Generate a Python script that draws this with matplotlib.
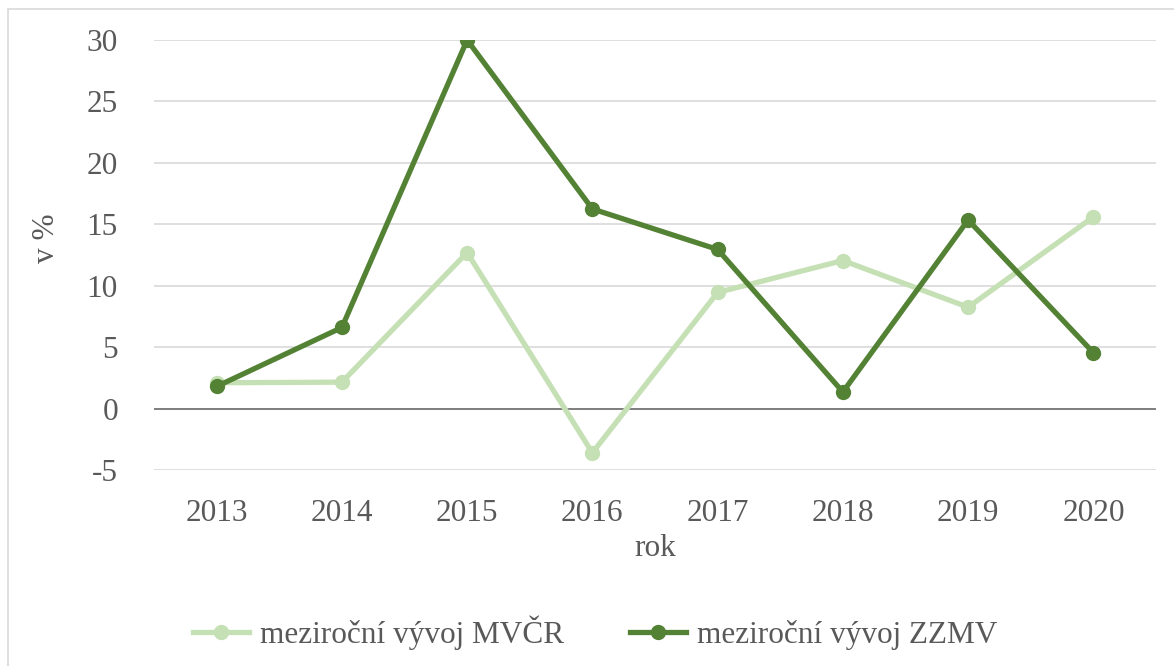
import matplotlib
matplotlib.use("Agg")
import matplotlib.pyplot as plt
from matplotlib.lines import Line2D
from matplotlib.patches import Rectangle

years = ["2013", "2014", "2015", "2016", "2017", "2018", "2019", "2020"]
mvcr = [2.1, 2.15, 12.7, -3.6, 9.45, 12.05, 8.25, 15.6]
zzmv = [1.8, 6.6, 30.0, 16.25, 12.95, 1.35, 15.35, 4.55]
yticks = [-5, 0, 5, 10, 15, 20, 25, 30]
label_mvcr = "meziroční vývoj MVČR"
label_zzmv = "meziroční vývoj ZZMV"

LIGHT = "#C5E0B4"
DARK = "#548235"
TXT = "#595959"
GRID = "#D9D9D9"

plt.rcParams["font.family"] = ["Liberation Serif", "DejaVu Serif"]

W, H = 1174, 666
fig = plt.figure(figsize=(W / 100, H / 100), dpi=100)
fig.patch.set_facecolor("white")

left, right, top, bottom = 154, 1156, 40, 470
ax = fig.add_axes([left / W, 1 - bottom / H, (right - left) / W, (bottom - top) / H])

x = list(range(len(years)))
ax.plot(x, mvcr, color=LIGHT, lw=3.8, marker="o", ms=10, solid_capstyle="round", zorder=3)
ax.plot(x, zzmv, color=DARK, lw=3.8, marker="o", ms=10, solid_capstyle="round", zorder=4)

ax.set_xlim(-0.5, len(years) - 0.5)
ax.set_ylim(-5, 30)
ax.set_yticks(yticks)
ax.set_yticklabels([str(v) for v in yticks])
ax.set_xticks(x)
ax.set_xticklabels(years)
ax.grid(axis="y", color=GRID, lw=1.2, zorder=0)
ax.axhline(0, color="#7F7F7F", lw=1.4, zorder=2)
for s in ax.spines.values():
    s.set_visible(False)
ax.tick_params(axis="both", length=0, labelsize=22.5, colors=TXT)
ax.tick_params(axis="y", pad=26)
ax.tick_params(axis="x", pad=21)

fig.text(655 / W, 1 - 549 / H, "rok", ha="center", va="center", fontsize=22.5, color=TXT)
fig.text(46 / W, 1 - 238 / H, "v %", ha="center", va="center", rotation=90, fontsize=22.5, color=TXT)

handles = [
    Line2D([0], [0], color=LIGHT, lw=3.8, marker="o", ms=10),
    Line2D([0], [0], color=DARK, lw=3.8, marker="o", ms=10),
]
leg = fig.legend(handles, [label_mvcr, label_zzmv], loc="center", bbox_to_anchor=(595 / W, 1 - 633 / H),
                 ncol=2, frameon=False, fontsize=22.5, handlelength=1.8, handletextpad=0.35,
                 columnspacing=2.1)
for t in leg.get_texts():
    t.set_color(TXT)

fig.patches.append(Rectangle((8 / W, -0.1), 1.2, 1.1 - 9 / H, transform=fig.transFigure,
                             fill=False, edgecolor=GRID, lw=1.2))

fig.savefig("out.png", dpi=100)
